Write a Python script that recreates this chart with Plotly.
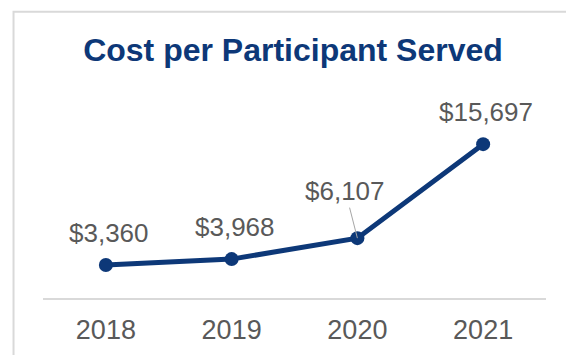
import plotly.graph_objects as go

years = ["2018", "2019", "2020", "2021"]
cost = [3360, 3968, 6107, 15697]
labels = ["$3,360", "$3,968", "$6,107", "$15,697"]

NAVY = "#0d3878"
GRAY = "#595959"
FONT = "Arial, Liberation Sans, sans-serif"

fig = go.Figure()
fig.add_trace(go.Scatter(
    x=years, y=cost, mode="lines+markers",
    line=dict(color=NAVY, width=5),
    marker=dict(color=NAVY, size=14),
    hoverinfo="skip",
))

# data labels; the 2020 one sits higher with a leader line
for i, (yr, v, lab) in enumerate(zip(years, cost, labels)):
    leader = yr == "2020"
    fig.add_annotation(
        x=i, y=v, text=lab, showarrow=True,
        ax=-12 if leader else 3, ay=-47 if leader else -32,
        arrowhead=0, arrowwidth=1,
        arrowcolor="#a6a6a6" if leader else "rgba(0,0,0,0)",
        font=dict(family=FONT, size=26, color=GRAY),
    )

# card border
fig.add_shape(type="rect", xref="paper", yref="paper",
              x0=-0.0586, x1=1.2, y0=-1, y1=1.46,
              line=dict(color="#d9d9d9", width=2), layer="below")

# page body has an 8px margin, so pull the plot up/left to match
fig.update_layout(
    width=574, height=355,
    margin=dict(l=35, r=36, t=94, b=65),
    paper_bgcolor="white", plot_bgcolor="white",
    showlegend=False,
    title=dict(text="<b>Cost per Participant Served</b>",
               font=dict(family=FONT, size=32, color=NAVY),
               x=0.497, xref="paper", xanchor="center",
               y=1 - 42 / 355, yref="container", yanchor="middle"),
    xaxis=dict(type="category", range=[-0.5, 3.5], showgrid=False, zeroline=False,
               showline=True, linecolor="#d9d9d9", linewidth=2,
               ticks="", ticklabelstandoff=7,
               tickfont=dict(family=FONT, size=27, color=GRAY)),
    yaxis=dict(range=[0, 20000], visible=False, showgrid=False, zeroline=False),
)

fig.write_html("out.html")
